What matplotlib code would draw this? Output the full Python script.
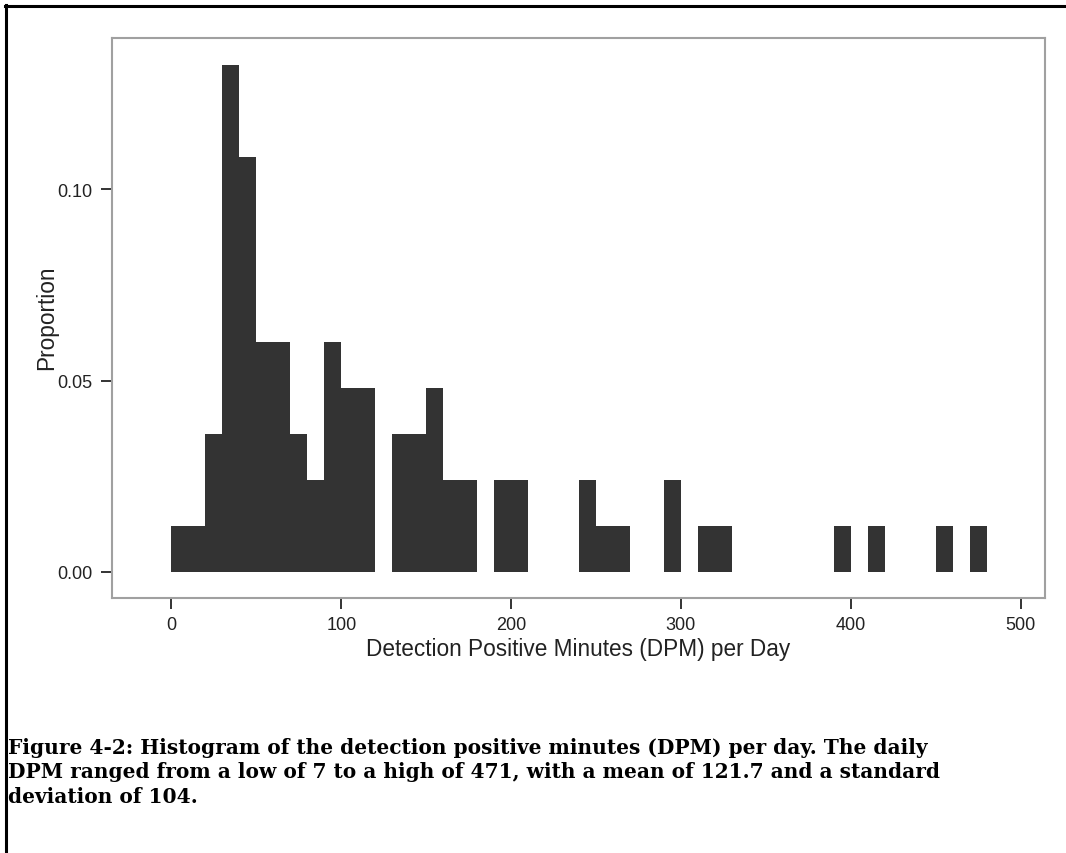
import numpy as np
import matplotlib
matplotlib.use("Agg")
import matplotlib.pyplot as plt
from matplotlib.lines import Line2D

# Daily DPM histogram: number of days falling in each 10-minute bin (0-480)
bin_edges = np.arange(0, 490, 10)
day_counts = [1, 1, 3, 11, 9, 5, 5, 3, 2, 5,      # 0-100
              4, 4, 0, 3, 3, 4, 2, 2, 0, 2,       # 100-200
              2, 0, 0, 0, 2, 1, 1, 0, 0, 2,       # 200-300
              0, 1, 1, 0, 0, 0, 0, 0, 0, 1,       # 300-400
              0, 1, 0, 0, 0, 1, 0, 1]             # 400-480
total_days = sum(day_counts)
proportions = np.array(day_counts) / total_days

x_ticks = [0, 100, 200, 300, 400, 500]
y_ticks = [0.00, 0.05, 0.10]
y_tick_labels = ["0.00", "0.05", "0.10"]

x_label = "Detection Positive Minutes (DPM) per Day"
y_label = "Proportion"
caption = ("Figure 4-2: Histogram of the detection positive minutes (DPM) per day. The daily\n"
           "DPM ranged from a low of 7 to a high of 471, with a mean of 121.7 and a standard\n"
           "deviation of 104.")

W, H = 1066, 854
fig = plt.figure(figsize=(W / 100, H / 100), dpi=100)
fig.patch.set_facecolor("white")

ax = fig.add_axes([112 / W, 1 - 599 / H, (1045 - 112) / W, (599 - 39) / H])
ax.stairs(proportions, bin_edges, fill=True, facecolor="#333333",
          edgecolor="none", linewidth=0, baseline=0)

ax.set_xlim(-35.0, 514.4)
ax.set_ylim(-0.0068, 0.1396)
ax.set_xticks(x_ticks)
ax.set_yticks(y_ticks)
ax.set_yticklabels(y_tick_labels)

sans = ["Liberation Sans", "DejaVu Sans"]
for lab in ax.get_xticklabels() + ax.get_yticklabels():
    lab.set_fontfamily(sans)
    lab.set_fontsize(13)
    lab.set_color("#222222")

ax.tick_params(axis="both", direction="out", length=8, width=1.2, color="#111111")
ax.tick_params(axis="x", pad=5)
ax.tick_params(axis="y", pad=6)
for side in ax.spines.values():
    side.set_color("#a0a0a0")
    side.set_linewidth(1.5)

ax.set_xlabel(x_label, fontsize=16.3, family=sans, color="#222222")
ax.set_ylabel(y_label, fontsize=16.3, family=sans, color="#222222")
ax.xaxis.set_label_coords(0.5, -0.0696)
ax.yaxis.set_label_coords(-0.0577, 0.503)

# Caption below the chart
fig.text(8 / W, 1 - 738 / H, caption, ha="left", va="top",
         family=["DejaVu Serif"], fontweight="bold", fontsize=14.5,
         linespacing=1.27, color="black")

# Page frame: top and left rules
fig.add_artist(Line2D([5 / W, 1.0], [1 - 7 / H, 1 - 7 / H], color="black",
                      linewidth=2.2, transform=fig.transFigure))
fig.add_artist(Line2D([6 / W, 6 / W], [0.0, 1 - 6 / H], color="black",
                      linewidth=2.2, transform=fig.transFigure))

fig.savefig("out.png", dpi=100, facecolor="white")
